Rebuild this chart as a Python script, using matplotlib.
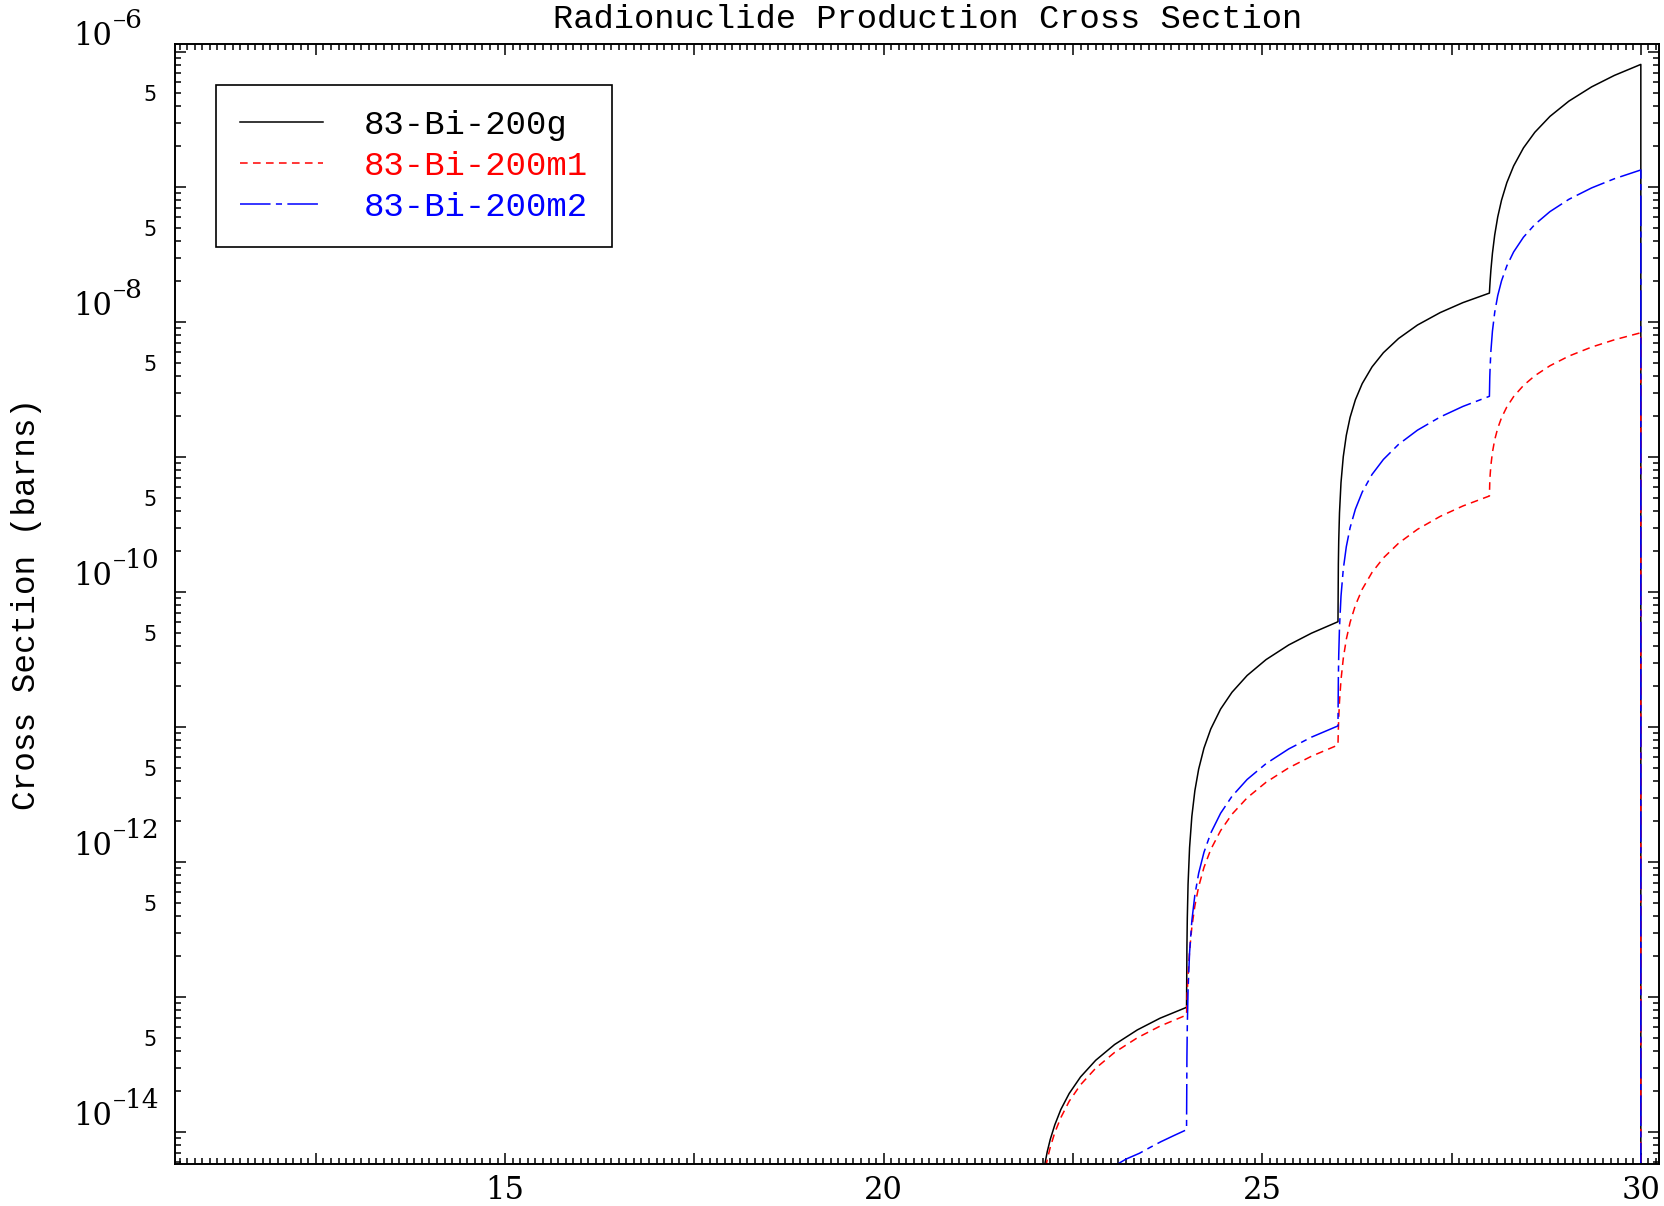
import matplotlib
matplotlib.use("Agg")
import matplotlib.pyplot as plt
import matplotlib.transforms as mtransforms
from matplotlib.ticker import FixedLocator, NullFormatter, FuncFormatter, MultipleLocator
import numpy as np

# 83-Bi-200g (black, solid)
x_g = [22.12, 22.16, 22.20, 22.26, 22.34, 22.45, 22.60, 22.80, 23.05, 23.35, 23.65, 24.00,
       24.005, 24.01, 24.02, 24.04, 24.07, 24.11, 24.16, 24.23, 24.32, 24.45, 24.60, 24.80, 25.05, 25.35, 25.65, 26.00,
       26.005, 26.01, 26.02, 26.04, 26.07, 26.11, 26.16, 26.23, 26.32, 26.45, 26.60, 26.80, 27.05, 27.35, 27.65, 28.00,
       28.005, 28.01, 28.02, 28.04, 28.07, 28.11, 28.16, 28.23, 28.32, 28.45, 28.60, 28.80, 29.05, 29.35, 29.65, 30.00,
       30.00]
y_g = [5.46e-15, 7.14e-15, 8.82e-15, 1.13e-14, 1.47e-14, 1.93e-14, 2.56e-14, 3.40e-14, 4.45e-14, 5.71e-14, 6.97e-14, 8.39e-14,
       2.34e-13, 3.84e-13, 6.84e-13, 1.28e-12, 2.18e-12, 3.38e-12, 4.88e-12, 6.98e-12, 9.68e-12, 1.36e-11, 1.81e-11, 2.41e-11, 3.16e-11, 4.06e-11, 4.96e-11, 6.03e-11,
       1.61e-10, 2.41e-10, 3.86e-10, 6.48e-10, 1.007e-9, 1.449e-9, 1.969e-9, 2.658e-9, 3.501e-9, 4.658e-9, 5.934e-9, 7.558e-9, 9.514e-9, 1.176e-8, 1.394e-8, 1.64e-8,
       1.84e-8, 2.04e-8, 2.44e-8, 3.23e-8, 4.42e-8, 6.01e-8, 8.00e-8, 1.078e-7, 1.435e-7, 1.952e-7, 2.548e-7, 3.342e-7, 4.336e-7, 5.528e-7, 6.719e-7, 8.11e-7,
       1e-16]

# 83-Bi-200m1 (red, dashed)
x_m1 = [22.14, 22.16, 22.20, 22.26, 22.34, 22.45, 22.60, 22.80, 23.05, 23.35, 23.65, 24.00,
        24.005, 24.01, 24.02, 24.04, 24.07, 24.11, 24.16, 24.23, 24.32, 24.45, 24.60, 24.80, 25.05, 25.35, 25.65, 26.00,
        26.005, 26.01, 26.02, 26.04, 26.07, 26.11, 26.16, 26.23, 26.32, 26.45, 26.60, 26.80, 27.05, 27.35, 27.65, 28.00,
        28.005, 28.01, 28.02, 28.04, 28.07, 28.11, 28.16, 28.23, 28.32, 28.45, 28.60, 28.80, 29.05, 29.35, 29.65, 30.00,
        30.00]
y_m1 = [5.50e-15, 6.24e-15, 7.71e-15, 9.91e-15, 1.28e-14, 1.69e-14, 2.24e-14, 2.97e-14, 3.89e-14, 4.99e-14, 6.09e-14, 7.36e-14,
        9.18e-14, 1.10e-13, 1.465e-13, 2.19e-13, 3.29e-13, 4.74e-13, 6.57e-13, 9.12e-13, 1.24e-12, 1.71e-12, 2.26e-12, 2.99e-12, 3.90e-12, 4.99e-12, 6.08e-12, 7.36e-12,
        9.67e-12, 1.167e-11, 1.541e-11, 2.238e-11, 3.22e-11, 4.468e-11, 5.964e-11, 7.979e-11, 1.049e-10, 1.399e-10, 1.791e-10, 2.30e-10, 2.916e-10, 3.637e-10, 4.343e-10, 5.15e-10,
        6.56e-10, 7.40e-10, 8.73e-10, 1.084e-9, 1.343e-9, 1.636e-9, 1.956e-9, 2.352e-9, 2.807e-9, 3.394e-9, 4.007e-9, 4.750e-9, 5.600e-9, 6.530e-9, 7.393e-9, 8.34e-9,
        1e-16]

# 83-Bi-200m2 (blue, dash-dot)
x_m2 = [23.07, 23.09, 23.20, 23.38, 23.52, 23.66, 23.83, 24.00,
        24.005, 24.01, 24.02, 24.04, 24.07, 24.11, 24.16, 24.23, 24.32, 24.45, 24.60, 24.80, 25.05, 25.35, 25.65, 26.00,
        26.005, 26.01, 26.02, 26.04, 26.07, 26.11, 26.16, 26.23, 26.32, 26.45, 26.60, 26.80, 27.05, 27.35, 27.65, 28.00,
        28.005, 28.01, 28.02, 28.04, 28.07, 28.11, 28.16, 28.23, 28.32, 28.45, 28.60, 28.80, 29.05, 29.35, 29.65, 30.00,
        30.00]
y_m2 = [5.60e-15, 5.79e-15, 6.30e-15, 6.97e-15, 7.70e-15, 8.47e-15, 9.40e-15, 1.04e-14,
        3.59e-14, 6.14e-14, 1.12e-13, 2.14e-13, 3.67e-13, 5.71e-13, 8.26e-13, 1.18e-12, 1.64e-12, 2.30e-12, 3.07e-12, 4.09e-12, 5.36e-12, 6.89e-12, 8.42e-12, 1.02e-11,
        2.30e-11, 3.41e-11, 5.47e-11, 9.33e-11, 1.477e-10, 2.168e-10, 2.996e-10, 4.112e-10, 5.50e-10, 7.44e-10, 9.605e-10, 1.242e-9, 1.583e-9, 1.982e-9, 2.373e-9, 2.82e-9,
        3.91e-9, 4.71e-9, 6.12e-9, 8.56e-9, 1.18e-8, 1.571e-8, 2.02e-8, 2.608e-8, 3.31e-8, 4.257e-8, 5.29e-8, 6.586e-8, 8.121e-8, 9.866e-8, 1.153e-7, 1.34e-7,
        1e-16]

labels = ["83-Bi-200g", "83-Bi-200m1", "83-Bi-200m2"]
colors = ["black", "red", "blue"]

x_labelled = [15, 20, 25, 30]
decades = list(range(-15, -5))
labelled_decades = [-6, -8, -10, -12, -14]

mono = "Liberation Mono"
serif = "DejaVu Serif"

fig = plt.figure(figsize=(16.65, 12.06), dpi=100)
ax = fig.add_axes([0.1051, 0.0348, 0.8913, 0.9287])

lw = 1.1
ax.plot(x_g, y_g, color=colors[0], lw=lw, label=labels[0])
ax.plot(x_m1, y_m1, color=colors[1], lw=lw, dashes=(5, 3.5), label=labels[1])
ax.plot(x_m2, y_m2, color=colors[2], lw=lw, dashes=(20, 3.5, 4, 3.5), label=labels[2])

ax.set_yscale("log")
ax.set_xlim(10.64, 30.24)
ax.set_ylim(10 ** -14.237, 10 ** -5.94)

# x ticks: long ticks every 2.5, labels only on 15/20/25/30, small ticks every 0.1
ax.xaxis.set_major_locator(MultipleLocator(2.5))
ax.xaxis.set_minor_locator(MultipleLocator(0.1))
ax.xaxis.set_major_formatter(FuncFormatter(
    lambda v, pos: str(int(round(v))) if any(abs(v - t) < 1e-6 for t in x_labelled) else ""))
for t in ax.get_xticklabels():
    t.set_family(serif)
ax.tick_params(axis="x", which="major", labelsize=22, pad=8)

# y ticks: a major at every decade, minors at 2..9, only the 5s get a label
ax.yaxis.set_major_locator(FixedLocator([10.0 ** d for d in decades]))
ax.yaxis.set_major_formatter(NullFormatter())
minors = [m * 10.0 ** d for d in decades for m in range(2, 10)]
ax.yaxis.set_minor_locator(FixedLocator(minors))


def five(v, pos):
    m = v / 10 ** np.floor(np.log10(v) + 1e-9)
    return "5" if abs(m - 5) < 0.01 else ""


ax.yaxis.set_minor_formatter(FuncFormatter(five))

ax.tick_params(which="both", direction="in", top=True, right=True, width=1.1)
ax.tick_params(which="major", length=8)
ax.tick_params(which="minor", length=4)
ax.tick_params(axis="y", which="minor", pad=13, labelsize=15)
for s in ax.spines.values():
    s.set_linewidth(1.4)

# decade labels, IDL style: "10" with a big raised exponent
trans = mtransforms.blended_transform_factory(fig.transFigure, ax.transData)
off_up = mtransforms.ScaledTranslation(0, 19 / 100, fig.dpi_scale_trans)
for d in labelled_decades:
    v = 10.0 ** d
    ax.text(112 / 1665, v, "10", transform=trans, ha="right", va="bottom",
            family=serif, fontsize=22, clip_on=False)
    ax.text(113 / 1665, v, "\u2013" + str(-d), transform=trans + off_up, ha="left", va="bottom",
            family=serif, fontsize=19, clip_on=False)

fig.text(0.557, 1 - 19 / 1206, "Radionuclide Production Cross Section", ha="center", va="center",
         family=mono, fontsize=24.3)
fig.text(27 / 1665, 1 - 604 / 1206, "Cross Section (barns)", rotation=90, ha="center", va="center",
         family=mono, fontsize=23.5)

leg = ax.legend(loc="upper left", bbox_to_anchor=(0.0273, 0.9634), prop={"family": mono, "size": 24.5},
                labelcolor="linecolor", fancybox=False, framealpha=1, edgecolor="black",
                handlelength=2.45, handletextpad=1.18, borderpad=0.72, labelspacing=0.3,
                borderaxespad=0)
leg.get_frame().set_linewidth(1.2)

fig.savefig("out.png", dpi=100)
